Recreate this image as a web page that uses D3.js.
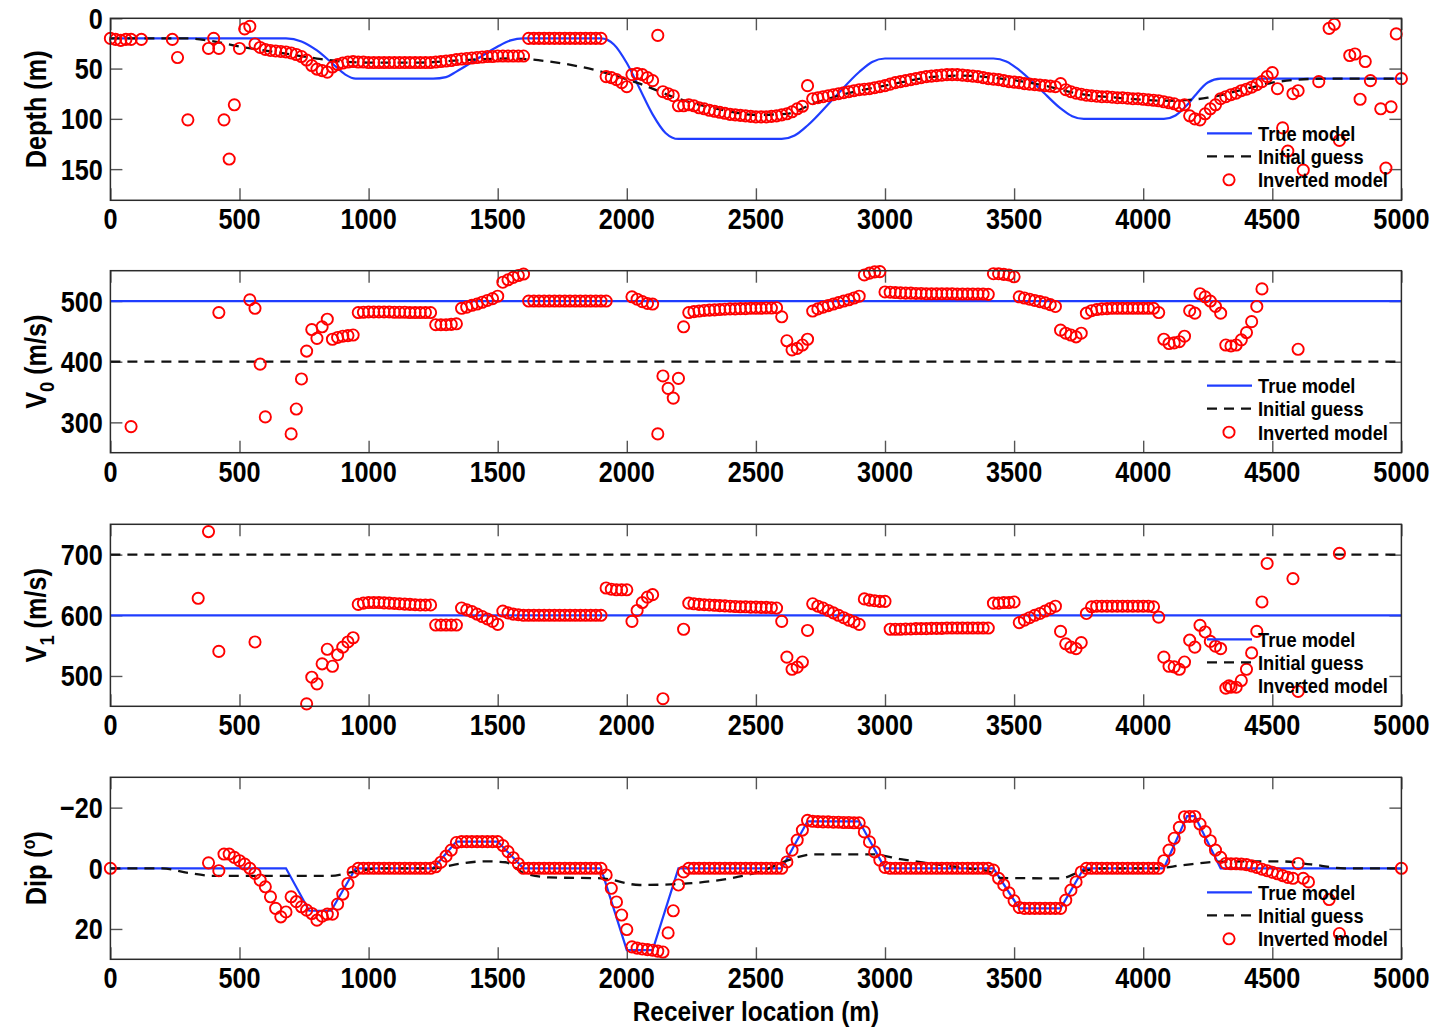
<!DOCTYPE html>
<html>
<head>
<meta charset="utf-8">
<script src="https://cdn.jsdelivr.net/npm/d3@7"></script>
<style>
  html, body { margin: 0; padding: 0; background: #fff; }
  svg { display: block; }
</style>
</head>
<body>
<svg id="chart" width="1438" height="1027"></svg>
<script>
// ---------------------------------------------------------------
// Receiver positions (m) and axis ticks
// ---------------------------------------------------------------
const receivers = d3.range(0, 5001, 20);   // 251 receivers, 20 m apart
const xTicks = [0, 500, 1000, 1500, 2000, 2500, 3000, 3500, 4000, 4500, 5000];
const depthTicks = [0, 50, 100, 150];
const v0Ticks = [300, 400, 500];
const v1Ticks = [500, 600, 700];
const dipTicks = [-20, 0, 20];

const legendLabels = ["True model", "Initial guess", "Inverted model"];

// ---------------------------------------------------------------
// True model and initial guess  ([x, value] pairs)
// ---------------------------------------------------------------
const trueDepth = [
  [0, 20], [680, 20], [740, 23], [800, 32], [860, 45], [910, 56], [950, 60],
  [1250, 60], [1300, 58.5], [1340, 53], [1420, 40.5], [1500, 28], [1550, 22], [1600, 20],
  [1900, 20], [1950, 26], [2000, 44.5], [2050, 70], [2100, 95.5], [2150, 114], [2200, 120],
  [2600, 120], [2650, 116.6], [2700, 106.6], [2800, 80], [2900, 53.4], [2950, 43.4], [3000, 40],
  [3420, 40], [3470, 42.9], [3520, 51.5], [3600, 70.3], [3680, 89.6], [3725, 97.4], [3770, 100],
  [4080, 100], [4125, 96.6], [4170, 86.3], [4200, 77], [4250, 63.8], [4300, 60],
  [5000, 60]
];
const initDepth = [
  [0, 20], [300, 20], [400, 23], [500, 28], [650, 34], [800, 40], [900, 43], [1000, 44],
  [1200, 44], [1400, 41], [1550, 40], [1700, 43], [1900, 53], [2050, 65], [2200, 80],
  [2350, 90], [2500, 96], [2620, 95], [2720, 85], [2850, 75], [3000, 67], [3200, 58],
  [3300, 57], [3450, 60], [3600, 66], [3750, 75], [3900, 79], [4100, 82], [4250, 79],
  [4400, 70], [4500, 64], [4600, 61], [4700, 60], [5000, 60]
];
const trueV0 = [[0, 500], [5000, 500]];
const initV0 = [[0, 400], [5000, 400]];
const trueV1 = [[0, 600], [5000, 600]];
const initV1 = [[0, 700], [5000, 700]];
const trueDip = [
  [0, 0], [680, 0], [770, 14], [855, 14], [950, 0],
  [1250, 0], [1340, -8.8], [1500, -8.8], [1600, 0],
  [1900, 0], [2000, 27], [2100, 27], [2200, 0],
  [2600, 0], [2700, -15.5], [2900, -15.5], [3000, 0],
  [3420, 0], [3520, 13.2], [3680, 13.2], [3770, 0],
  [4080, 0], [4170, -17.2], [4200, -17.2], [4300, 0],
  [5000, 0]
];
const initDip = [
  [0, 0], [200, 0], [300, 1.5], [400, 2.5], [850, 2.5], [950, 1], [1050, 0], [1250, 0],
  [1350, -1.5], [1450, -2.3], [1530, -2], [1600, 1.5], [1700, 3], [1900, 3.3], [2050, 5.5],
  [2200, 5.2], [2400, 3.3], [2520, 1], [2620, -2.5], [2720, -4.6], [2950, -4.6], [3060, -3],
  [3180, -1.5], [3320, 0], [3400, 1], [3450, 3.2], [3680, 3.3], [3760, 1], [3850, 0],
  [4050, 0], [4150, -1], [4300, -2.2], [4530, -2.3], [4650, -1.3], [4780, 0], [5000, 0]
];

// ---------------------------------------------------------------
// Inverted model, one value per receiver (null = outside the axes)
// ---------------------------------------------------------------
const invDepth = [
  20, 21, 22, 21, 21, null, 21, null, null, null,
  null, null, 21, 39, null, 101, null, null, null, 30,
  20, 30, 101, 140, 86, 30, 10.5, 8, 25.5, 29,
  31, 32, 32.5, 33, 33.5, 34.5, 36, 38, 41.5, 47,
  50.5, 52, 53.5, 48.5, 46, 44.5, 43.5, 43, 43.5, 43.5,
  44, 44, 44, 44, 44, 44, 44, 44, 44, 44,
  44, 44, 44, 43.5, 43, 42.5, 42, 41, 40.5, 40,
  39.5, 39, 38.5, 38, 38, 37.5, 37.5, 37.5, 37.5, 37.5,
  37.5, 20, 20, 20, 20, 20, 20, 20, 20, 20,
  20, 20, 20, 20, 20, 20, 58, 59, 61, 64,
  68, 56, 55, 56, 59, 62, 17, 73, 75, 77,
  87, 87, 86, 87, 89, 90, 91.5, 92.5, 93.5, 94.5,
  95.5, 96, 96.5, 97, 97.5, 98, 98, 98, 97.5, 97,
  96, 95, 93, 90, 87.5, 67, 80, 79, 78, 77,
  76, 75, 74, 73, 72, 71, 70.5, 70, 69, 68,
  67, 65.5, 64, 63, 62, 61, 60, 59, 58, 57.5,
  57, 56.5, 56, 56, 56, 56.5, 57, 57.5, 58, 59,
  60, 60.5, 61, 62, 63, 63.5, 64, 65, 65.5, 66,
  66.5, 67, 67.5, 68, 65, 71, 73, 74.5, 75.5, 76.5,
  77, 77.5, 78, 78, 78.5, 79, 79, 79.5, 80, 80,
  80.5, 81, 81.5, 82, 83, 84, 85, 87, 86, 97,
  100, 101, 95, 90, 86, 80, 78, 76, 74.5, 72,
  70.5, 68.5, 66, 63, 58, 54, 70, 109, 132, 75,
  72, 151, null, null, 63, null, 10, 6, 121.5, null,
  37, 35.5, 80.5, 43, 62, null, 90, 149, 88, 15.5,
  60
];
const invV0 = [
  null, null, null, null, 293, null, null, null, null, null,
  null, null, null, null, null, null, null, null, null, null,
  null, 481, null, null, null, null, null, 502, 488, 396,
  309, null, null, null, null, 281, 322, 371.5, 417.5, 453,
  438.5, 457.5, 470, 437, 440, 442, 443, 444, 481, 481.5,
  482, 482, 482, 482, 482, 481.5, 481.5, 481.5, 481, 481,
  481, 481, 481, 461, 461, 461, 461.5, 462.5, 488, 490,
  493, 495, 498, 501, 504, 508, 531, 535, 539, 542,
  544.5, 500, 500, 500, 500, 500, 500, 500, 500, 500,
  500, 500, 500, 500, 500, 500, 500, null, null, null,
  null, 507, 503, 499, 496, 495, 281, 376.5, 356, 340,
  372.5, 457.5, 481, 482.5, 483.5, 484.5, 485, 485.5, 486, 486.5,
  487, 487, 487.5, 487.5, 488, 488, 488, 488.5, 488.5, 489,
  474, 434.5, 419.5, 422, 427.5, 437, 483.5, 487, 490, 492.5,
  495, 497.5, 500, 502, 505, 508, 543, 546, 548, 548.5,
  515, 514.5, 514, 513.5, 513, 513, 512.5, 512.5, 512, 512,
  512, 512, 512, 512, 511.5, 511.5, 511.5, 511.5, 511.5, 511.5,
  511, 545, 545, 544, 543, 540, 507, 505, 503, 501,
  499, 497, 494, 491, 452, 447, 444, 441, 447, 480,
  484, 486, 487, 487.5, 488, 488, 488, 488, 488, 488,
  488, 488, 488, 481, 437, 430, 431, 433, 442, 484,
  480, 512, 507, 500, 491, 480, 427.5, 426, 427.5, 436,
  448, 466, 491, 520, null, null, null, null, null, null,
  420.5, null, null, null, null, null, null, null, null, null,
  null, null, null, null, null, null, null, null, null, null,
  null
];
const invV1 = [
  null, null, null, null, null, null, null, null, null, null,
  null, null, null, null, null, null, null, 628, null, 738,
  null, 540.5, null, null, null, null, null, null, 556, null,
  null, null, null, null, null, null, null, null, 454, 498,
  487, 520, 544, 516, 535, 547.5, 556, 563, 618, 620,
  621, 621, 621, 620.5, 620, 619.5, 619, 618.5, 618, 617.5,
  617, 617, 617, 584, 584, 584, 584, 584, 612, 609,
  606, 602, 598, 594, 590, 585, 607, 604, 602, 601,
  600, 600, 600, 600, 600, 600, 600, 600, 600, 600,
  600, 600, 600, 600, 600, 600, 645, 643, 642, 642,
  642, 590, 608, 621, 630, 634, null, 462.5, null, null,
  null, 577, 620, 619, 618, 617.5, 617, 616.5, 616, 615.5,
  615, 614.5, 614, 614, 613.5, 613.5, 613, 613, 612.5, 612,
  590, 531, 511, 514.5, 523, 575, 619, 615, 612, 608,
  604, 600, 596, 592, 589, 585, 627, 625, 624, 623,
  623, 577, 577, 577, 577.5, 577.5, 578, 578, 578, 578.5,
  578.5, 578.5, 579, 579, 579, 579, 579, 579, 579, 579,
  579, 620, 620, 621, 621, 622, 588, 592, 596, 600,
  603, 607, 611, 615, 573.5, 553, 547.5, 545, 555, 603,
  614, 615, 615, 615, 615, 615, 615, 615, 615, 615,
  615, 615, 614, 597, 531, 516, 515, 511, 523, 559,
  547.5, 583.5, 572.5, 557, 549, 545, 480, 481.5, 481.5, 492.5,
  511, 538, 573.5, 622, 685.5, null, null, null, null, 660.5,
  474.5, null, null, null, null, null, null, null, 702, null,
  null, null, null, null, null, null, null, null, null, null,
  null
];
const invDip = [
  0, null, null, null, null, null, null, null, null, null,
  null, null, null, null, null, null, null, null, null, -1.8,
  null, 0.8, -4.7, -4.7, -3.6, -2.5, -1.4, 0, 1.7, 3.9,
  6.1, 9.4, 13.2, 16, 14.4, 9.4, 11, 12.7, 13.8, 14.9,
  17.1, 15.8, 15.1, 15.1, 11.8, 8.5, 5, 1.2, 0, 0,
  0, 0, 0, 0, 0, 0, 0, 0, 0, 0,
  0, 0, 0, -0.5, -2, -4, -6, -8.5, -8.8, -8.8,
  -8.8, -8.8, -8.8, -8.8, -8.8, -8.8, -7.5, -5.5, -3.5, -1.5,
  0, 0, 0, 0, 0, 0, 0, 0, 0, 0,
  0, 0, 0, 0, 0, 0, 2.2, 6.6, 11.1, 15.4,
  20.2, 25.9, 26.3, 26.6, 26.8, 27, 27.3, 27.6, 21.3, 14,
  5.5, 1.2, 0, 0, 0, 0, 0, 0, 0, 0,
  0, 0, 0, 0, 0, 0, 0, 0, 0, 0,
  0, -2.1, -6, -9.3, -12.6, -15.8, -15.5, -15.4, -15.3, -15.3,
  -15.2, -15.2, -15.1, -15.1, -15, -15, -12, -8.7, -5.4, -2.7,
  -0.3, 0, 0, 0, 0, 0, 0, 0, 0, 0,
  0, 0, 0, 0, 0, 0, 0, 0, 0, 0,
  0, 0.6, 3.3, 5.5, 8.1, 10.7, 12.9, 13.2, 13.2, 13.2,
  13.2, 13.2, 13.2, 13.2, 13.2, 10.5, 7.2, 4.5, 1.2, 0,
  0, 0, 0, 0, 0, 0, 0, 0, 0, 0,
  0, 0, 0, 0, -2.5, -6, -9.9, -13.5, -17, -17.1,
  -17.1, -14.6, -12.1, -9.1, -6, -3.6, -1.6, -1.5, -1.5, -1.4,
  -1.2, -0.8, -0.3, 0.3, 0.8, 1.3, 1.8, 2.4, 3, 3.3,
  -1.6, 3.3, 4.5, null, null, null, 10.3, null, 21.5, null,
  null, null, null, null, null, null, null, null, null, null,
  0
];

// ---------------------------------------------------------------
// Layout and styling
// ---------------------------------------------------------------
const svg = d3.select("#chart");
const plotLeft = 110.4, plotRight = 1401.4;
const panelHeight = 182;
const FONT = "'Liberation Sans', Arial, Helvetica, sans-serif";
const SX = 0.87;               // narrow letterforms
const BLUE = "#1f3dff", RED = "#ff0000", DASH = "#111111";

const x = d3.scaleLinear().domain([0, 5000]).range([plotLeft, plotRight]);

const panels = [
  { top: 18.3,  domain: [0, 181],   reversed: true,  ticks: depthTicks,
    trueLine: trueDepth, initLine: initDepth, inv: invDepth, smooth: true,
    ylabel: t => t.text("Depth (m)") },
  { top: 270.7, domain: [250, 550], reversed: false, ticks: v0Ticks,
    trueLine: trueV0, initLine: initV0, inv: invV0, smooth: false,
    ylabel: t => { t.append("tspan").text("V");
                   t.append("tspan").attr("dy", 8).attr("font-size", 21).text("0");
                   t.append("tspan").attr("dy", -8).text(" (m/s)"); } },
  { top: 524.3, domain: [450, 750], reversed: false, ticks: v1Ticks,
    trueLine: trueV1, initLine: initV1, inv: invV1, smooth: false,
    ylabel: t => { t.append("tspan").text("V");
                   t.append("tspan").attr("dy", 8).attr("font-size", 21).text("1");
                   t.append("tspan").attr("dy", -8).text(" (m/s)"); } },
  { top: 777.3, domain: [-30, 30],  reversed: true,  ticks: dipTicks,
    trueLine: trueDip, initLine: initDip, inv: invDip, smooth: false, smoothInit: true,
    ylabel: t => { t.append("tspan").text("Dip (");
                   t.append("tspan").attr("dy", -11).attr("font-size", 18).text("o");
                   t.append("tspan").attr("dy", 11).text(")"); } }
];

function addText(g, px, py, content, opts = {}) {
  const rot = opts.rotate ? ` rotate(${opts.rotate})` : "";
  const t = g.append("text")
    .attr("transform", `translate(${px},${py})${rot} scale(${SX},1)`)
    .attr("text-anchor", opts.anchor || "middle")
    .attr("font-family", FONT)
    .attr("font-weight", "bold")
    .attr("font-size", opts.size || 29)
    .attr("fill", "#000");
  if (typeof content === "function") content(t); else t.text(content);
  return t;
}

const fmt = v => (v < 0 ? "\u2212" + Math.abs(v) : String(v));

panels.forEach((p, i) => {
  const top = p.top, bottom = top + panelHeight;
  const y = d3.scaleLinear().domain(p.domain)
    .range(p.reversed ? [top, bottom] : [bottom, top]);

  const g = svg.append("g");

  // clip region for the model lines
  const clipId = "clip" + i;
  svg.append("clipPath").attr("id", clipId)
    .append("rect").attr("x", plotLeft).attr("y", top)
    .attr("width", plotRight - plotLeft).attr("height", panelHeight);

  // inward ticks on all four sides
  const tickStyle = sel => {
    sel.select(".domain").remove();
    sel.selectAll(".tick line").attr("stroke", "#555").attr("stroke-width", 1.4);
    sel.selectAll(".tick text").remove();
  };
  g.append("g").attr("transform", `translate(0,${bottom})`)
    .call(d3.axisBottom(x).tickValues(xTicks).tickSize(-12).tickSizeOuter(0)).call(tickStyle);
  g.append("g").attr("transform", `translate(0,${top})`)
    .call(d3.axisTop(x).tickValues(xTicks).tickSize(-12).tickSizeOuter(0)).call(tickStyle);
  g.append("g").attr("transform", `translate(${plotLeft},0)`)
    .call(d3.axisLeft(y).tickValues(p.ticks).tickSize(-12).tickSizeOuter(0)).call(tickStyle);
  g.append("g").attr("transform", `translate(${plotRight},0)`)
    .call(d3.axisRight(y).tickValues(p.ticks).tickSize(-12).tickSizeOuter(0)).call(tickStyle);

  // model curves
  const lineTrue = d3.line().x(d => x(d[0])).y(d => y(d[1]))
    .curve(p.smooth ? d3.curveMonotoneX : d3.curveLinear);
  const lineInit = d3.line().x(d => x(d[0])).y(d => y(d[1]))
    .curve(p.smooth || p.smoothInit ? d3.curveMonotoneX : d3.curveLinear);

  const lines = g.append("g").attr("clip-path", `url(#${clipId})`);
  lines.append("path").datum(p.trueLine).attr("d", lineTrue)
    .attr("fill", "none").attr("stroke", BLUE).attr("stroke-width", 2.2);
  lines.append("path").datum(p.initLine).attr("d", lineInit)
    .attr("fill", "none").attr("stroke", DASH).attr("stroke-width", 2.3)
    .attr("stroke-dasharray", "10,7");

  // inverted model markers
  const pts = receivers.map((r, k) => [r, p.inv[k]]).filter(d => d[1] !== null);
  g.append("g").selectAll("circle").data(pts).join("circle")
    .attr("cx", d => x(d[0])).attr("cy", d => y(d[1])).attr("r", 5.6)
    .attr("fill", "none").attr("stroke", RED).attr("stroke-width", 1.9);

  // axes box
  g.append("rect").attr("x", plotLeft).attr("y", top)
    .attr("width", plotRight - plotLeft).attr("height", panelHeight)
    .attr("fill", "none").attr("stroke", "#2b2b2b").attr("stroke-width", 1.5);

  // tick labels
  xTicks.forEach(v => addText(g, x(v), bottom + 29, String(v)));
  p.ticks.forEach(v => addText(g, plotLeft - 7.5, y(v) + 10.5, fmt(v), { anchor: "end" }));

  // y label
  addText(g, 46, top + panelHeight / 2, p.ylabel, { rotate: -90 });

  // legend
  const ly = [top + 115, top + 138, top + 161.5];
  const lg = g.append("g");
  lg.append("line").attr("x1", 1207).attr("x2", 1252).attr("y1", ly[0]).attr("y2", ly[0])
    .attr("stroke", BLUE).attr("stroke-width", 2.2);
  lg.append("line").attr("x1", 1207).attr("x2", 1252).attr("y1", ly[1]).attr("y2", ly[1])
    .attr("stroke", DASH).attr("stroke-width", 2.3).attr("stroke-dasharray", "10,7");
  lg.append("circle").attr("cx", 1229).attr("cy", ly[2]).attr("r", 5.6)
    .attr("fill", "none").attr("stroke", RED).attr("stroke-width", 1.9);
  legendLabels.forEach((s, k) =>
    addText(lg, 1258, ly[k] + 7.5, s, { anchor: "start", size: 21 }));
});

// shared x label
addText(svg, (plotLeft + plotRight) / 2, 1021, "Receiver location (m)", { size: 28 });
</script>
</body>
</html>
